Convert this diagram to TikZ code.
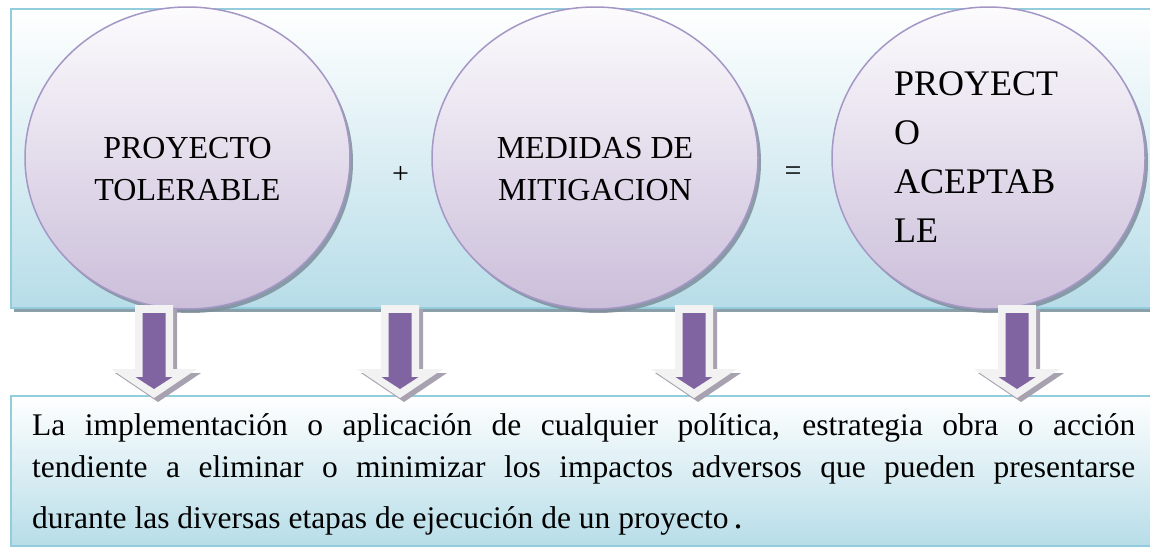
\documentclass[tikz,border=0pt]{standalone}
\usepackage{fontspec}
\setmainfont{Liberation Serif}
\usetikzlibrary{shapes.geometric,shadows}

\definecolor{panelline}{HTML}{93CDDD}
\definecolor{panelfill}{HTML}{B7DDE8}
\definecolor{panelshade}{HTML}{8A9FA8}
\definecolor{bubbletop}{HTML}{FCFBFD}
\definecolor{bubblefill}{HTML}{CBBEDA}
\definecolor{bubbleline}{HTML}{A597C5}
\definecolor{bubbleshade}{HTML}{7F8E9C}
\definecolor{arrowpurple}{HTML}{8064A2}
\definecolor{arrowrim}{HTML}{F2F2F2}
\definecolor{arrowshade}{HTML}{A8A2B0}

\tikzstyle{panel}=[draw=panelline, line width=1.5pt, top color=white, bottom color=panelfill, inner sep=0pt, anchor=north west, drop shadow={shadow xshift=3pt, shadow yshift=-4pt, fill=panelshade, opacity=1}]
\tikzstyle{bubble}=[ellipse, draw=bubbleline, line width=1.5pt, top color=bubbletop, bottom color=bubblefill, inner sep=0pt, drop shadow={shadow xshift=3pt, shadow yshift=-4pt, fill=bubbleshade, opacity=0.85}]
\tikzstyle{bubbletext}=[align=center, inner sep=0pt, anchor=base, font=\fontsize{32}{42}\selectfont]
\tikzstyle{sign}=[inner sep=0pt, font=\fontsize{30}{30}\selectfont]

\begin{document}
\begin{tikzpicture}[x=1pt, y=-1pt]
	\useasboundingbox (0,0) rectangle (1150,546);

	% upper band with the three terms
	\node[panel, minimum width=1160pt, minimum height=299pt] (terms) at (10,8) {};

	\node[bubble, minimum width=325pt, minimum height=302pt] (tolerable) at (187.5,158) {};
	\node[bubble, minimum width=326pt, minimum height=302pt] (medidas) at (595,158) {};
	\node[bubble, minimum width=313pt, minimum height=302pt] (aceptable) at (988.5,158) {};

	% base of these nodes is the last line
	\node[bubbletext] (toltext) at (187.5,200) {PROYECTO\\TOLERABLE};
	\node[bubbletext] (medtext) at (595,200) {MEDIDAS DE\\MITIGACION};
	\node[bubbletext, align=left, anchor=base west, font=\fontsize{36}{49}\selectfont] (acetext) at (894,242) {PROYECT\\O\\ACEPTAB\\LE};

	\node[sign] (plus) at (400.5,175) {+};
	\node[sign] (equals) at (793,174) {=};

	% lower band with the definition
	\node[panel, minimum width=1160pt, minimum height=150pt] (note) at (10,395) {};
	\node[anchor=base west, inner sep=0pt, text width=1103pt, align=justify, font=\fontsize{31.5}{42.5}\selectfont] (notetext) at (32,435)
		{\parindent=0pt\tolerance=10000
		{\parfillskip=0pt La implementación o aplicación de cualquier política, estrategia obra o acción\linebreak
		tendiente a eliminar o minimizar los impactos adversos que pueden presentarse\par}
		\vspace{8pt}
		durante las diversas etapas de ejecución de un proyecto\,{\fontsize{36}{36}\selectfont.}};

	% block arrows
	\foreach \ax in {154,400,694,1017} {
		\fill[arrowshade] (\ax-15,309) -- (\ax+23,309) -- (\ax+23,373) -- (\ax+47,373) -- (\ax+4,402) -- (\ax-39,373) -- (\ax-15,373) -- cycle;
		\fill[arrowrim] (\ax-19,305) -- (\ax+19,305) -- (\ax+19,369) -- (\ax+43,369) -- (\ax,398) -- (\ax-43,369) -- (\ax-19,369) -- cycle;
		\fill[arrowpurple] (\ax-11.5,313) -- (\ax+11.5,313) -- (\ax+11.5,377) -- (\ax+18.5,377) -- (\ax,389) -- (\ax-18.5,377) -- (\ax-11.5,377) -- cycle;
	}
\end{tikzpicture}
\end{document}
